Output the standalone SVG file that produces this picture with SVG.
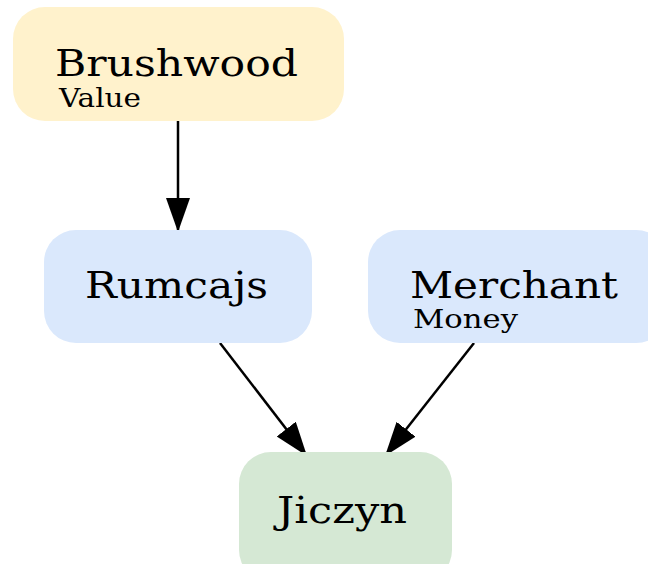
<svg xmlns="http://www.w3.org/2000/svg" width="648" height="564" viewBox="0 0 648 564">
  <defs>
    <style>
      .title { font-family: "DejaVu Serif", "Liberation Serif", serif; font-size: 38px; fill: #000; }
      .sub { font-family: "DejaVu Serif", "Liberation Serif", serif; font-size: 26px; fill: #000; }
      .edge { stroke: #000; stroke-width: 2.5; fill: none; }
    </style>
    <marker id="arrow" markerUnits="userSpaceOnUse" markerWidth="36" markerHeight="26" refX="34" refY="12" orient="auto">
      <path d="M0,0 L34,12 L0,24 Z" fill="#000"/>
    </marker>
  </defs>

  <g id="connectors">
    <path class="edge" d="M178,121 L178,232" marker-end="url(#arrow)"/>
    <path class="edge" d="M220,343 L307,456" marker-end="url(#arrow)"/>
    <path class="edge" d="M474,343 L385,456" marker-end="url(#arrow)"/>
  </g>

  <g id="brushwood">
    <rect x="13" y="7" width="331" height="114" rx="32" fill="#fff2cc"/>
    <text class="title" x="55" y="76" textLength="243" lengthAdjust="spacingAndGlyphs">Brushwood</text>
    <text class="sub" x="59" y="107" textLength="82" lengthAdjust="spacingAndGlyphs">Value</text>
  </g>

  <g id="rumcajs">
    <rect x="44" y="230" width="268" height="113" rx="32" fill="#dae8fc"/>
    <text class="title" x="85" y="298" textLength="183" lengthAdjust="spacingAndGlyphs">Rumcajs</text>
  </g>

  <g id="merchant">
    <rect x="368" y="230" width="300" height="113" rx="32" fill="#dae8fc"/>
    <text class="title" x="410" y="298" textLength="208" lengthAdjust="spacingAndGlyphs">Merchant</text>
    <text class="sub" x="413" y="328" textLength="105" lengthAdjust="spacingAndGlyphs">Money</text>
  </g>

  <g id="jiczyn">
    <rect x="239" y="452" width="213" height="130" rx="32" fill="#d5e8d4"/>
    <text class="title" x="277" y="523" textLength="130" lengthAdjust="spacingAndGlyphs">Jiczyn</text>
  </g>
</svg>
